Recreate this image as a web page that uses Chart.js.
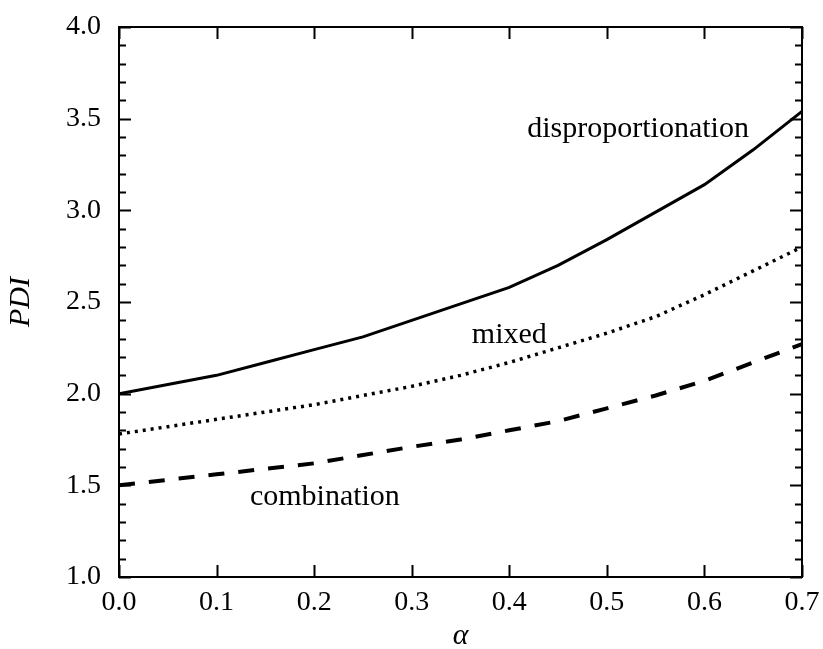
<!DOCTYPE html>
<html>
<head>
<meta charset="utf-8">
<script src="https://cdn.jsdelivr.net/npm/chart.js@4"></script>
<style>
  html, body { margin: 0; padding: 0; background: #fff; }
  #wrap { width: 823px; height: 649px; }
</style>
</head>
<body>
<div id="wrap"><canvas id="chart" width="823" height="649"></canvas></div>
<script>
// alpha values (x axis)
const alphaValues = [0, 0.05, 0.1, 0.15, 0.2, 0.25, 0.3, 0.35, 0.4, 0.45, 0.5, 0.55, 0.6, 0.65, 0.7];

// PDI for each termination mode
const pdiDisproportionation = [2.00, 2.05, 2.10, 2.17, 2.24, 2.31, 2.40, 2.49, 2.58, 2.70, 2.84, 2.99, 3.14, 3.33, 3.54];
const pdiMixed = [1.78, 1.82, 1.86, 1.90, 1.94, 1.99, 2.04, 2.10, 2.17, 2.25, 2.33, 2.42, 2.54, 2.67, 2.80];
const pdiCombination = [1.50, 1.53, 1.56, 1.59, 1.62, 1.665, 1.71, 1.75, 1.80, 1.85, 1.92, 1.99, 2.07, 2.17, 2.27];

// tick positions
const xTickValues = [0, 0.1, 0.2, 0.3, 0.4, 0.5, 0.6, 0.7];
const yMajorTicks = [1.0, 1.5, 2.0, 2.5, 3.0, 3.5, 4.0];
const yMinorTicks = [1.1, 1.2, 1.3, 1.4, 1.6, 1.7, 1.8, 1.9, 2.1, 2.2, 2.3, 2.4,
  2.6, 2.7, 2.8, 2.9, 3.1, 3.2, 3.3, 3.4, 3.6, 3.7, 3.8, 3.9];

// curve labels: [text, alpha, PDI at baseline]
const curveLabels = [
  ["disproportionation", 0.532, 3.40],
  ["mixed", 0.40, 2.276],
  ["combination", 0.211, 1.393],
];

const serif = "'Liberation Serif', 'Times New Roman', serif";

const toPoints = (ys) => alphaValues.map((a, i) => ({ x: a, y: ys[i] }));

// keep the plot box fixed: no extra room for overhanging tick labels
const noPadding = (scale) => {
  scale.paddingTop = 0;
  scale.paddingBottom = 0;
  scale.paddingLeft = 0;
  scale.paddingRight = 0;
};

// frame, inward ticks and curve labels
const framePlugin = {
  id: "frame",
  afterDatasetsDraw(chart) {
    const { ctx, chartArea: area, scales } = chart;
    const x = scales.x;
    const y = scales.y;
    ctx.save();
    ctx.strokeStyle = "#000";
    ctx.lineWidth = 2;
    ctx.strokeRect(area.left, area.top, area.right - area.left, area.bottom - area.top);

    ctx.beginPath();
    xTickValues.forEach((v) => {
      const px = Math.round(x.getPixelForValue(v)) + 0.5;
      ctx.moveTo(px, area.bottom);
      ctx.lineTo(px, area.bottom - 12);
      ctx.moveTo(px, area.top);
      ctx.lineTo(px, area.top + 12);
    });
    yMajorTicks.forEach((v) => {
      const py = Math.round(y.getPixelForValue(v)) + 0.5;
      ctx.moveTo(area.left, py);
      ctx.lineTo(area.left + 12, py);
      ctx.moveTo(area.right, py);
      ctx.lineTo(area.right - 12, py);
    });
    yMinorTicks.forEach((v) => {
      const py = Math.round(y.getPixelForValue(v)) + 0.5;
      ctx.moveTo(area.left, py);
      ctx.lineTo(area.left + 7, py);
      ctx.moveTo(area.right, py);
      ctx.lineTo(area.right - 7, py);
    });
    ctx.lineWidth = 2;
    ctx.stroke();

    ctx.fillStyle = "#000";
    ctx.font = "30px " + serif;
    ctx.textAlign = "center";
    ctx.textBaseline = "alphabetic";
    curveLabels.forEach(([text, a, p]) => {
      ctx.fillText(text, x.getPixelForValue(a), y.getPixelForValue(p));
    });
    ctx.restore();
  },
};

new Chart(document.getElementById("chart"), {
  type: "line",
  data: {
    datasets: [
      {
        label: "disproportionation",
        data: toPoints(pdiDisproportionation),
        borderColor: "#000",
        borderWidth: 3,
        pointRadius: 0,
        tension: 0,
      },
      {
        label: "mixed",
        data: toPoints(pdiMixed),
        borderColor: "#000",
        borderWidth: 3.5,
        borderDash: [3, 5],
        pointRadius: 0,
        tension: 0,
      },
      {
        label: "combination",
        data: toPoints(pdiCombination),
        borderColor: "#000",
        borderWidth: 4,
        borderDash: [16, 14],
        pointRadius: 0,
        tension: 0,
      },
    ],
  },
  options: {
    responsive: false,
    animation: false,
    layout: { padding: { top: 27, right: 21, left: 0, bottom: 0 } },
    plugins: {
      legend: { display: false },
      tooltip: { enabled: false },
    },
    scales: {
      x: {
        type: "linear",
        min: 0,
        max: 0.7,
        grid: { display: false, drawTicks: false },
        border: { display: false },
        ticks: {
          stepSize: 0.1,
          padding: 9,
          color: "#000",
          font: { family: serif, size: 28 },
          maxRotation: 0,
          callback: (v) => Number(v).toFixed(1),
        },
        title: {
          display: true,
          text: "α",
          color: "#000",
          font: { family: serif, size: 30, style: "italic", lineHeight: 1 },
          padding: { top: 0, bottom: -2 },
        },
        afterFit: (scale) => {
          scale.height = 72;
          noPadding(scale);
        },
      },
      y: {
        min: 1,
        max: 4,
        grid: { display: false, drawTicks: false },
        border: { display: false },
        ticks: {
          stepSize: 0.5,
          padding: 18,
          color: "#000",
          font: { family: serif, size: 28 },
          callback: (v) => Number(v).toFixed(1),
        },
        title: {
          display: true,
          text: "PDI",
          color: "#000",
          font: { family: serif, size: 30, style: "italic", lineHeight: 1.2 },
          padding: { top: 3, bottom: 0 },
        },
        afterFit: (scale) => {
          scale.width = 119;
          noPadding(scale);
        },
      },
    },
  },
  plugins: [framePlugin],
});
</script>
</body>
</html>
